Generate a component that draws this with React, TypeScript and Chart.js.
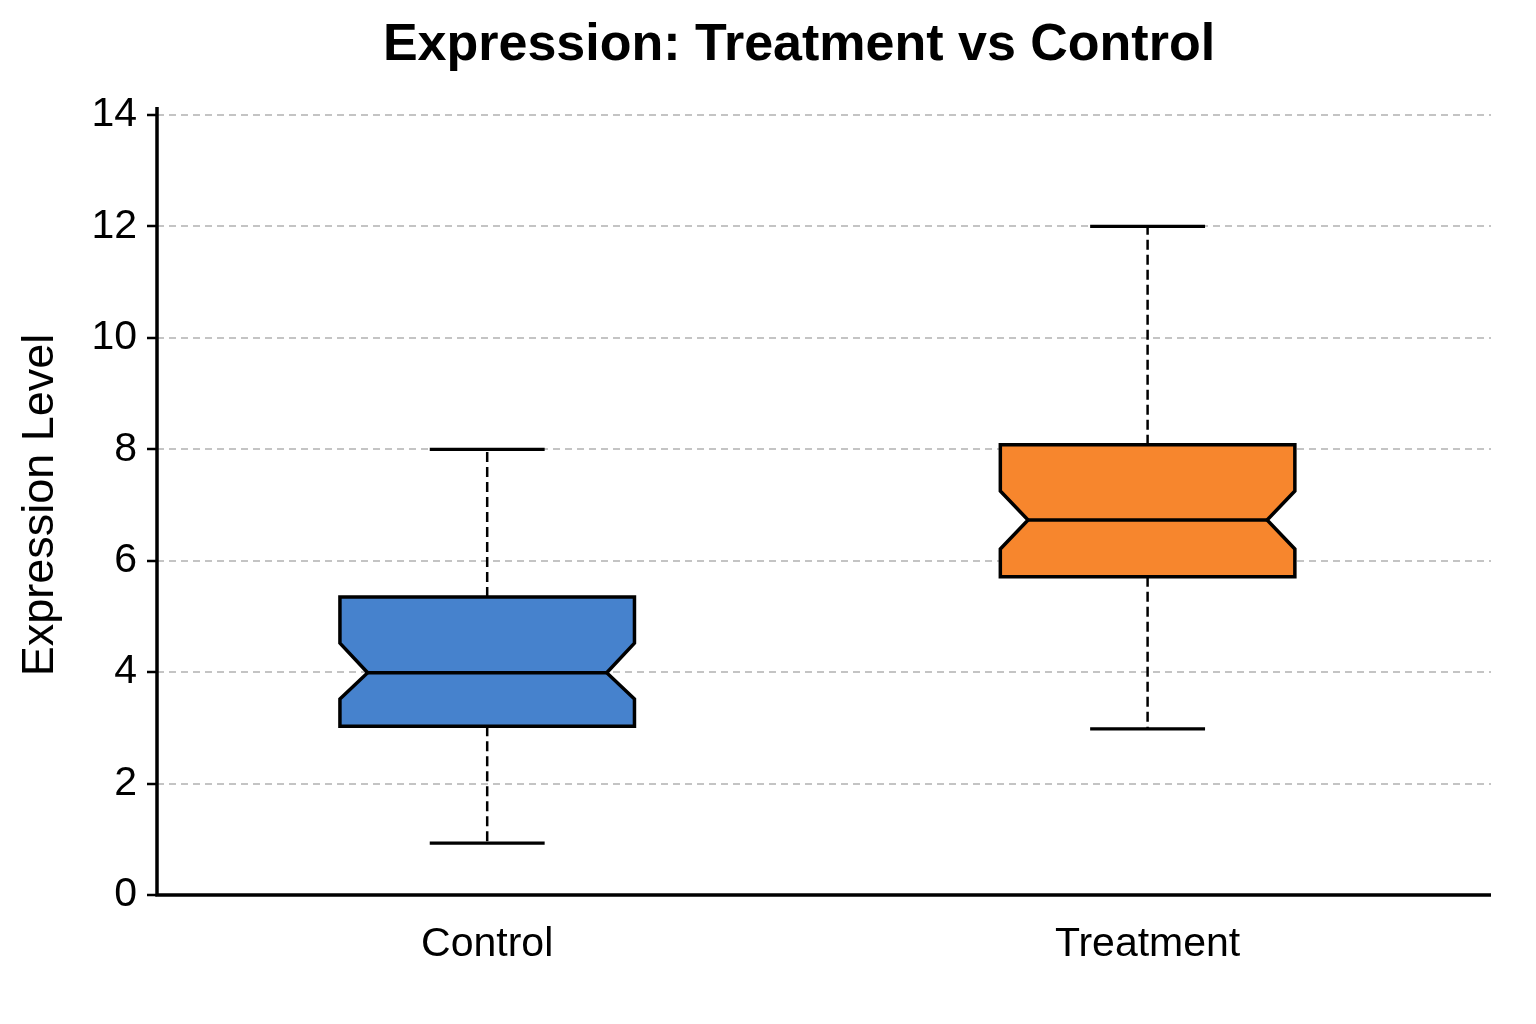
import React, { useEffect, useRef } from "react";
import { Chart, registerables } from "chart.js";

Chart.register(...registerables);

const chartTitle = "Expression: Treatment vs Control";
const yAxisTitle = "Expression Level";
const categories = ["Control", "Treatment"];
const whiskerLow = [0.93, 2.98];
const q1 = [3.03, 5.71];
const median = [3.99, 6.73];
const q3 = [5.35, 8.08];
const whiskerHigh = [8.0, 12.0];
const notchLow = [3.52, 6.21];
const notchHigh = [4.52, 7.25];
const yTickValues = [0, 2, 4, 6, 8, 10, 12, 14];
const boxColors = ["#4682cd", "#f7862d"];

const FONT = "'Liberation Sans', Arial, Helvetica, sans-serif";

const BOX_HALF = 0.223;
const NOTCH_HALF = 0.181;
const CAP_HALF = 0.087;

const boxPlugin = {
  id: "notchedBoxes",
  afterDatasetsDraw(chart: any) {
    const { ctx } = chart;
    const xs = chart.scales.x;
    const ys = chart.scales.y;
    ctx.save();
    categories.forEach((_, i) => {
      const xL = xs.getPixelForValue(i - BOX_HALF);
      const xR = xs.getPixelForValue(i + BOX_HALF);
      const xNL = xs.getPixelForValue(i - NOTCH_HALF);
      const xNR = xs.getPixelForValue(i + NOTCH_HALF);
      const xC = xs.getPixelForValue(i);
      const cL = xs.getPixelForValue(i - CAP_HALF);
      const cR = xs.getPixelForValue(i + CAP_HALF);
      const yQ1 = ys.getPixelForValue(q1[i]);
      const yQ3 = ys.getPixelForValue(q3[i]);
      const yMed = ys.getPixelForValue(median[i]);
      const yNL = ys.getPixelForValue(notchLow[i]);
      const yNH = ys.getPixelForValue(notchHigh[i]);
      const yLo = ys.getPixelForValue(whiskerLow[i]);
      const yHi = ys.getPixelForValue(whiskerHigh[i]);

      // whiskers
      ctx.strokeStyle = "#000";
      ctx.lineWidth = 2.5;
      ctx.setLineDash([10, 5]);
      ctx.beginPath();
      ctx.moveTo(xC, yQ3);
      ctx.lineTo(xC, yHi);
      ctx.moveTo(xC, yQ1);
      ctx.lineTo(xC, yLo);
      ctx.stroke();
      ctx.setLineDash([]);

      // caps
      ctx.lineWidth = 3.2;
      ctx.lineCap = "butt";
      ctx.beginPath();
      ctx.moveTo(cL, yHi);
      ctx.lineTo(cR, yHi);
      ctx.moveTo(cL, yLo);
      ctx.lineTo(cR, yLo);
      ctx.stroke();

      // notched box
      ctx.beginPath();
      ctx.moveTo(xL, yQ1);
      ctx.lineTo(xL, yNL);
      ctx.lineTo(xNL, yMed);
      ctx.lineTo(xL, yNH);
      ctx.lineTo(xL, yQ3);
      ctx.lineTo(xR, yQ3);
      ctx.lineTo(xR, yNH);
      ctx.lineTo(xNR, yMed);
      ctx.lineTo(xR, yNL);
      ctx.lineTo(xR, yQ1);
      ctx.closePath();
      ctx.fillStyle = boxColors[i];
      ctx.fill();
      ctx.lineJoin = "miter";
      ctx.lineWidth = 3.5;
      ctx.strokeStyle = "#000";
      ctx.stroke();

      // median
      ctx.beginPath();
      ctx.moveTo(xNL, yMed);
      ctx.lineTo(xNR, yMed);
      ctx.stroke();
    });
    ctx.restore();
  },
  afterDraw(chart: any) {
    const { ctx, chartArea } = chart;
    ctx.save();
    // axis spines
    ctx.strokeStyle = "#000";
    ctx.lineWidth = 3.5;
    ctx.setLineDash([]);
    ctx.beginPath();
    ctx.moveTo(chartArea.left, chartArea.top - 8);
    ctx.lineTo(chartArea.left, chartArea.bottom);
    ctx.lineTo(chartArea.right, chartArea.bottom);
    ctx.stroke();
    // title
    ctx.fillStyle = "#000";
    ctx.font = `bold 52px ${FONT}`;
    ctx.textAlign = "center";
    ctx.textBaseline = "middle";
    ctx.fillText(chartTitle, 799, 46);
    ctx.restore();
  },
};

export default function App() {
  const ref = useRef<HTMLCanvasElement>(null);
  useEffect(() => {
    document.body.style.margin = "0";
    const canvas = ref.current!;
    const chart = new Chart(canvas, {
      type: "scatter",
      data: {
        datasets: [
          {
            label: "median",
            data: categories.map((_, i) => ({ x: i, y: median[i] })),
            pointRadius: 0,
            showLine: false,
          },
        ],
      },
      options: {
        responsive: false,
        animation: false,
        devicePixelRatio: 1,
        layout: { padding: { left: 0, right: 45, top: 115, bottom: 0 } },
        plugins: {
          legend: { display: false },
          tooltip: { enabled: false },
          title: { display: false },
        },
        scales: {
          x: {
            type: "linear",
            min: -0.5,
            max: 1.52,
            afterBuildTicks: (scale: any) => {
              scale.ticks = categories.map((_, i) => ({ value: i }));
            },
            afterFit: (scale: any) => {
              scale.height = 129;
            },
            ticks: {
              color: "#000",
              font: { family: FONT, size: 41 },
              padding: 25,
              callback: (v: any) => categories[v as number] ?? "",
            },
            grid: { display: false, drawTicks: false },
            border: { display: false },
          },
          y: {
            type: "linear",
            min: 0,
            max: 14,
            afterBuildTicks: (scale: any) => {
              scale.ticks = yTickValues.map((v) => ({ value: v }));
            },
            afterFit: (scale: any) => {
              scale.width = 157;
            },
            ticks: {
              color: "#000",
              font: { family: FONT, size: 41 },
              padding: 10,
            },
            grid: {
              color: "#c4c4c4",
              lineWidth: 2,
              drawTicks: true,
              tickLength: 10,
              tickColor: "#000",
              tickWidth: 2.5,
              tickBorderDash: [],
            },
            border: { display: false, dash: [7, 5] },
            title: {
              display: true,
              text: yAxisTitle,
              color: "#000",
              font: { family: FONT, size: 45 },
              padding: { top: 14, bottom: 0 },
            },
          },
        },
      },
      plugins: [boxPlugin],
    } as any);
    return () => chart.destroy();
  }, []);
  return (
    <canvas
      ref={ref}
      width={1536}
      height={1024}
      style={{ display: "block", width: 1536, height: 1024 }}
    />
  );
}
